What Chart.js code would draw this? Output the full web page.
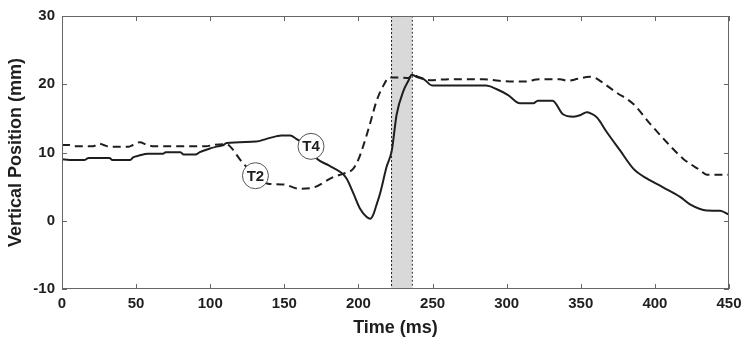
<!DOCTYPE html>
<html lang="en">
<head>
<meta charset="UTF-8">
<title>Vertical Position</title>
<script src="https://cdn.jsdelivr.net/npm/chart.js@4.4.4/dist/chart.umd.js"></script>
<style>
  html, body { margin: 0; padding: 0; background: #fff; }
  #wrap { width: 750px; height: 345px; position: relative; }
</style>
</head>
<body>
<div id="wrap"><canvas id="myChart"></canvas></div>
<script>
// T4 (solid line)
const t4Time = [0, 5, 15, 18, 32, 34, 46, 48, 52, 58, 68, 70, 80, 82, 90, 93, 100, 105, 109, 111, 131, 138, 145, 148, 154, 158, 163, 168, 172, 180, 188, 192, 196.6, 201, 205.6, 208, 210, 212, 214.6, 219, 222.5, 225.8, 230.3, 233.7, 236, 239, 244, 250, 286, 293, 301, 309, 318, 321, 331, 338, 345, 350, 354, 357, 361, 367.5, 376.5, 385.6, 394.5, 405.5, 417, 423.7, 435, 444, 450];
const t4Pos = [9.0, 8.9, 8.9, 9.2, 9.2, 8.9, 8.9, 9.3, 9.55, 9.8, 9.8, 10.05, 10.05, 9.7, 9.7, 10.05, 10.6, 10.9, 11.1, 11.4, 11.6, 12.0, 12.4, 12.5, 12.5, 12.0, 11.3, 10.2, 9.1, 8.1, 7.1, 6.2, 4.0, 1.8, 0.55, 0.3, 0.9, 2.2, 4.0, 7.9, 10.3, 15.6, 19.0, 20.5, 21.4, 21.1, 20.75, 19.8, 19.8, 19.3, 18.4, 17.2, 17.2, 17.6, 17.6, 15.6, 15.25, 15.5, 15.9, 15.7, 15.1, 13.0, 10.3, 7.6, 6.2, 4.9, 3.5, 2.4, 1.5, 1.45, 0.9];

// T2 (dashed line)
const t2Time = [0, 5, 8, 21, 25, 28, 32, 45, 48, 52.5, 57, 62, 97, 102, 111, 115, 120, 124, 130, 138, 140, 150, 160, 170, 183, 190, 196.4, 200, 203, 207.8, 212.3, 216.8, 221, 228, 233.5, 237, 241.5, 248, 262, 284, 295, 307, 314, 320, 336, 341, 348, 356, 360, 363, 374, 385.5, 396.8, 408, 419, 430.5, 435, 450];
const t2Pos = [11.1, 11.1, 10.9, 10.9, 11.3, 11.1, 10.85, 10.85, 11.1, 11.5, 11.15, 10.9, 10.9, 11.1, 11.2, 10.5, 9.0, 8.0, 6.6, 5.5, 5.4, 5.3, 4.7, 4.9, 6.4, 6.9, 7.6, 9.0, 10.8, 14.2, 17.6, 19.8, 21.0, 21.0, 20.9, 21.3, 21.0, 20.6, 20.75, 20.75, 20.5, 20.4, 20.4, 20.7, 20.75, 20.5, 20.8, 21.1, 20.9, 20.5, 18.8, 17.1, 14.2, 11.5, 9.1, 7.4, 6.75, 6.75];

// shaded window (ms)
const shadeRange = [222, 236];

// circled labels
const labelNames = ['T4', 'T2'];
const labelTimes = [168, 130.5];
const labelPos = [10.9, 6.6];

const xTicks = [0, 50, 100, 150, 200, 250, 300, 350, 400, 450];
const yTicks = [-10, 0, 10, 20, 30];

const FONT = '"Liberation Sans", Arial, Helvetica, sans-serif';
const INK = '#1e1e1e';

// gray window behind the lines
const shadePlugin = {
  id: 'shade',
  beforeDatasetsDraw(chart) {
    const { ctx, chartArea, scales } = chart;
    const x0 = scales.x.getPixelForValue(shadeRange[0]);
    const x1 = scales.x.getPixelForValue(shadeRange[1]);
    ctx.save();
    ctx.fillStyle = '#d9d9d9';
    ctx.fillRect(x0, chartArea.top, x1 - x0, chartArea.bottom - chartArea.top);
    ctx.strokeStyle = '#222';
    ctx.lineWidth = 1;
    ctx.setLineDash([2, 2]);
    ctx.strokeRect(x0 + 0.5, chartArea.top + 0.5, x1 - x0, chartArea.bottom - chartArea.top - 1);
    ctx.restore();
  }
};

// frame with inward ticks on all four sides, plus circled labels
const framePlugin = {
  id: 'frame',
  afterDatasetsDraw(chart) {
    const { ctx, chartArea: a, scales } = chart;
    ctx.save();
    ctx.strokeStyle = '#666';
    ctx.lineWidth = 1;
    ctx.setLineDash([]);
    ctx.strokeRect(a.left + 0.5, a.top + 0.5, a.right - a.left - 1, a.bottom - a.top - 1);
    const len = 5;
    ctx.beginPath();
    xTicks.forEach(v => {
      const px = Math.round(scales.x.getPixelForValue(v)) + 0.5;
      ctx.moveTo(px, a.bottom); ctx.lineTo(px, a.bottom - len);
      ctx.moveTo(px, a.top); ctx.lineTo(px, a.top + len);
    });
    yTicks.forEach(v => {
      const py = Math.round(scales.y.getPixelForValue(v)) + 0.5;
      ctx.moveTo(a.left, py); ctx.lineTo(a.left + len, py);
      ctx.moveTo(a.right, py); ctx.lineTo(a.right - len, py);
    });
    ctx.stroke();

    labelNames.forEach((name, i) => {
      const cx = scales.x.getPixelForValue(labelTimes[i]);
      const cy = scales.y.getPixelForValue(labelPos[i]);
      ctx.beginPath();
      ctx.arc(cx, cy, 13, 0, Math.PI * 2);
      ctx.fillStyle = '#fff';
      ctx.fill();
      ctx.strokeStyle = '#555';
      ctx.lineWidth = 1;
      ctx.stroke();
      ctx.fillStyle = INK;
      ctx.font = 'bold 15px ' + FONT;
      ctx.textAlign = 'center';
      ctx.textBaseline = 'middle';
      ctx.fillText(name, cx, cy + 1);
    });
    ctx.restore();
  }
};

const ctx = document.getElementById('myChart').getContext('2d');
const myChart = new Chart(ctx, {
  type: 'line',
  data: {
    datasets: [
      {
        label: 'T4',
        data: t4Time.map((t, i) => ({ x: t, y: t4Pos[i] })),
        borderColor: INK,
        borderWidth: 2,
        pointRadius: 0,
        fill: false,
        cubicInterpolationMode: 'monotone'
      },
      {
        label: 'T2',
        data: t2Time.map((t, i) => ({ x: t, y: t2Pos[i] })),
        borderColor: INK,
        borderWidth: 2,
        borderDash: [8, 5],
        pointRadius: 0,
        fill: false,
        cubicInterpolationMode: 'monotone'
      }
    ]
  },
  options: {
    responsive: true,
    maintainAspectRatio: false,
    animation: false,
    layout: { padding: { top: 15, right: 21, left: 0, bottom: 0 } },
    plugins: {
      legend: { display: false },
      tooltip: { enabled: false }
    },
    scales: {
      x: {
        type: 'linear',
        min: 0,
        max: 450,
        afterBuildTicks: s => { s.ticks = xTicks.map(v => ({ value: v })); },
        afterFit: s => { s.height = 56; },
        grid: { display: true, drawOnChartArea: false, drawTicks: false },
        border: { display: false },
        ticks: { color: INK, font: { family: FONT, size: 15, weight: 'bold' }, padding: 6, maxRotation: 0 },
        title: { display: true, text: 'Time (ms)', color: INK, font: { family: FONT, size: 18, weight: 'bold' }, padding: { top: 0, bottom: 6 } }
      },
      y: {
        type: 'linear',
        min: -10,
        max: 30,
        afterBuildTicks: s => { s.ticks = yTicks.map(v => ({ value: v })); },
        afterFit: s => { s.width = 62; },
        grid: { display: true, drawOnChartArea: false, drawTicks: false },
        border: { display: false },
        ticks: { color: INK, font: { family: FONT, size: 15, weight: 'bold' }, padding: 7 },
        title: { display: true, text: 'Vertical Position (mm)', color: INK, font: { family: FONT, size: 18, weight: 'bold' }, padding: { top: 5, bottom: 0 } }
      }
    }
  },
  plugins: [shadePlugin, framePlugin]
});
</script>
</body>
</html>
